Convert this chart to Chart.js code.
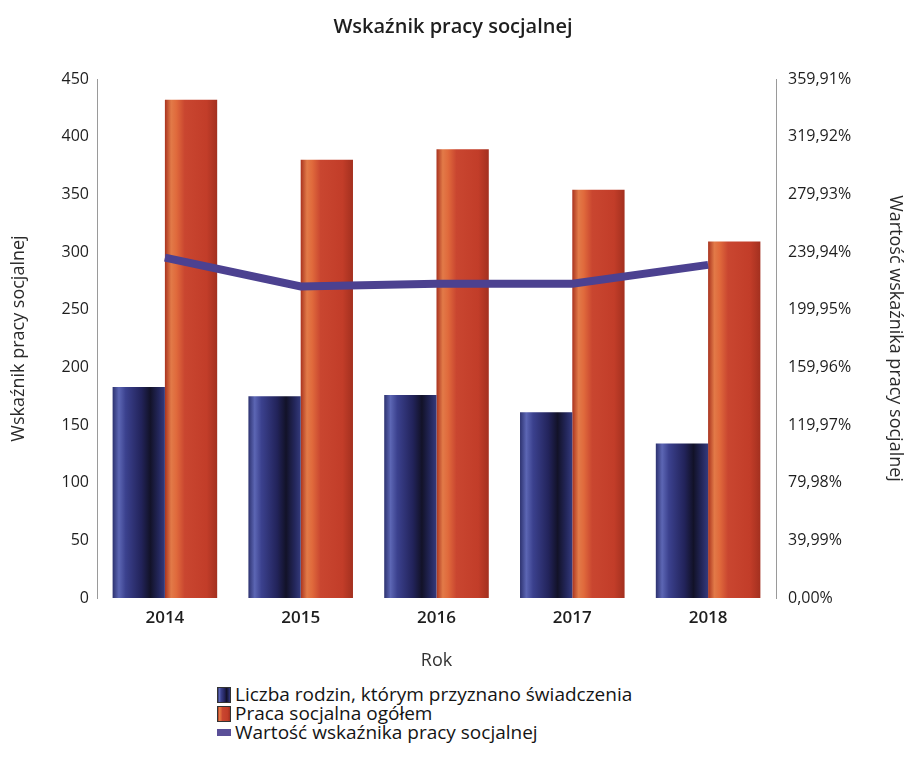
<!DOCTYPE html>
<html>
<head>
<meta charset="utf-8">
<script src="https://cdn.jsdelivr.net/npm/chart.js@4"></script>
<style>
  body { margin: 0; background: #fff; font-family: "Open Sans", sans-serif; }
  #wrap { position: relative; width: 906px; height: 680px; }
  #legend { position: absolute; left: 217px; top: 685px; font-size: 19px; color: #141414; line-height: 19px; }
  .row { display: flex; align-items: center; height: 19px; }
  .sw { width: 14px; height: 16px; margin-right: 4px; box-sizing: border-box; border: 1px solid #333; }
  .sw.line { height: 7px; border: none; }
</style>
</head>
<body>
<div id="wrap"><canvas id="chart"></canvas></div>
<div id="legend"></div>
<script>
// ============================================================
// Wskaźnik pracy socjalnej – bars + ratio line
// ============================================================

const years = ['2014', '2015', '2016', '2017', '2018'];
const rodziny = [183, 175, 176, 161, 134];      // Liczba rodzin, którym przyznano świadczenia
const pracaSocjalna = [432, 380, 389, 354, 309]; // Praca socjalna ogółem
const wskaznik = [236, 216, 218, 218, 231];      // Wartość wskaźnika (%)
const leftTicks = [0, 50, 100, 150, 200, 250, 300, 350, 400, 450];
const rightTicks = [0, 39.99, 79.98, 119.97, 159.96, 199.95, 239.94, 279.93, 319.92, 359.91];

const labelNames = [
  'Liczba rodzin, którym przyznano świadczenia',
  'Praca socjalna ogółem',
  'Wartość wskaźnika pracy socjalnej'
];

// cylinder-ish shading for the bars
const blueStops = [[0, '#2d3270'], [0.12, '#5c66b4'], [0.25, '#3b418e'], [0.55, '#22235a'], [0.72, '#121228'], [0.88, '#23265a'], [1, '#343a7c']];
const redStops = [[0, '#a9331f'], [0.12, '#e27a48'], [0.22, '#e06a3c'], [0.38, '#c94630'], [0.8, '#c23d29'], [1, '#a3301f']];

const CAT_PCT = 0.77, BAR_PCT = 1;

function barFill(ctx, side, stops) {
  const chart = ctx.chart;
  const xs = chart.scales.x;
  if (!chart.chartArea || !xs || ctx.dataIndex === undefined) return stops[3][1];
  const c = xs.getPixelForValue(ctx.dataIndex);
  const w = xs.width / years.length * CAT_PCT * BAR_PCT / 2;
  const x0 = side < 0 ? c - w : c;
  const g = chart.ctx.createLinearGradient(x0, 0, x0 + w, 0);
  stops.forEach(([o, col]) => g.addColorStop(o, col));
  return g;
}

function fmtPct(v) {
  return v.toFixed(2).replace('.', ',') + '%';
}

const font = 'Open Sans';

new Chart(document.getElementById('chart'), {
  data: {
    labels: years,
    datasets: [
      {
        type: 'line',
        label: labelNames[2],
        data: wskaznik,
        yAxisID: 'y2',
        borderColor: '#4c4190',
        borderWidth: 8,
        pointRadius: 0,
        tension: 0,
        order: 0
      },
      {
        type: 'bar',
        label: labelNames[0],
        data: rodziny,
        yAxisID: 'y',
        backgroundColor: ctx => barFill(ctx, -1, blueStops),
        categoryPercentage: CAT_PCT,
        barPercentage: BAR_PCT,
        order: 1
      },
      {
        type: 'bar',
        label: labelNames[1],
        data: pracaSocjalna,
        yAxisID: 'y',
        backgroundColor: ctx => barFill(ctx, 1, redStops),
        categoryPercentage: CAT_PCT,
        barPercentage: BAR_PCT,
        order: 1
      }
    ]
  },
  options: {
    responsive: true,
    maintainAspectRatio: false,
    animation: false,
    layout: { padding: { top: 13, left: 0, right: 0, bottom: 0 } },
    plugins: {
      legend: { display: false },
      tooltip: { enabled: false },
      title: {
        display: true,
        text: 'Wskaźnik pracy socjalnej',
        color: '#1e1e1e',
        font: { family: font, size: 20, weight: '600' },
        padding: { top: 2, bottom: 40 }
      }
    },
    scales: {
      x: {
        grid: { display: false, drawTicks: false },
        border: { display: false },
        ticks: { color: '#1e1e1e', font: { family: font, size: 17, weight: '600' }, padding: 10 },
        title: { display: true, text: 'Rok', color: '#333', font: { family: font, size: 18 }, padding: { top: 14, bottom: 8 } },
        afterFit: s => { s.height = 82; }
      },
      y: {
        position: 'left',
        min: 0,
        max: 450,
        afterBuildTicks: s => { s.ticks = leftTicks.map(v => ({ value: v })); },
        grid: { display: false, drawTicks: false },
        border: { display: true, color: '#9a9a9a', width: 1 },
        ticks: { color: '#1e1e1e', font: { family: font, size: 16 }, padding: 8 },
        title: { display: true, text: 'Wskaźnik pracy socjalnej', color: '#2a2a2a', font: { family: font, size: 18 }, padding: { top: 8, bottom: 0 } },
        afterFit: s => { s.width = 97; }
      },
      y2: {
        position: 'right',
        min: 0,
        max: 359.91,
        afterBuildTicks: s => { s.ticks = rightTicks.map(v => ({ value: v })); },
        grid: { display: false, drawTicks: false },
        border: { display: true, color: '#9a9a9a', width: 1 },
        ticks: { color: '#1e1e1e', font: { family: font, size: 16 }, padding: 12, callback: v => fmtPct(v) },
        title: { display: true, text: 'Wartość wskaźnika pracy socjalnej', color: '#2a2a2a', font: { family: font, size: 18 }, padding: { top: 0, bottom: 12 } },
        afterFit: s => { s.width = 130; }
      }
    }
  }
});

// HTML legend stacked one item per row
const legendEl = document.getElementById('legend');
const swatches = [
  'linear-gradient(90deg,' + blueStops.map(s => s[1] + ' ' + s[0] * 100 + '%').join(',') + ')',
  'linear-gradient(90deg,' + redStops.map(s => s[1] + ' ' + s[0] * 100 + '%').join(',') + ')',
  '#5a4f98'
];
labelNames.forEach((name, i) => {
  const row = document.createElement('div');
  row.className = 'row';
  const sw = document.createElement('span');
  sw.className = 'sw' + (i === 2 ? ' line' : '');
  sw.style.background = swatches[i];
  const txt = document.createElement('span');
  txt.textContent = name;
  row.appendChild(sw);
  row.appendChild(txt);
  legendEl.appendChild(row);
});
</script>
</body>
</html>
